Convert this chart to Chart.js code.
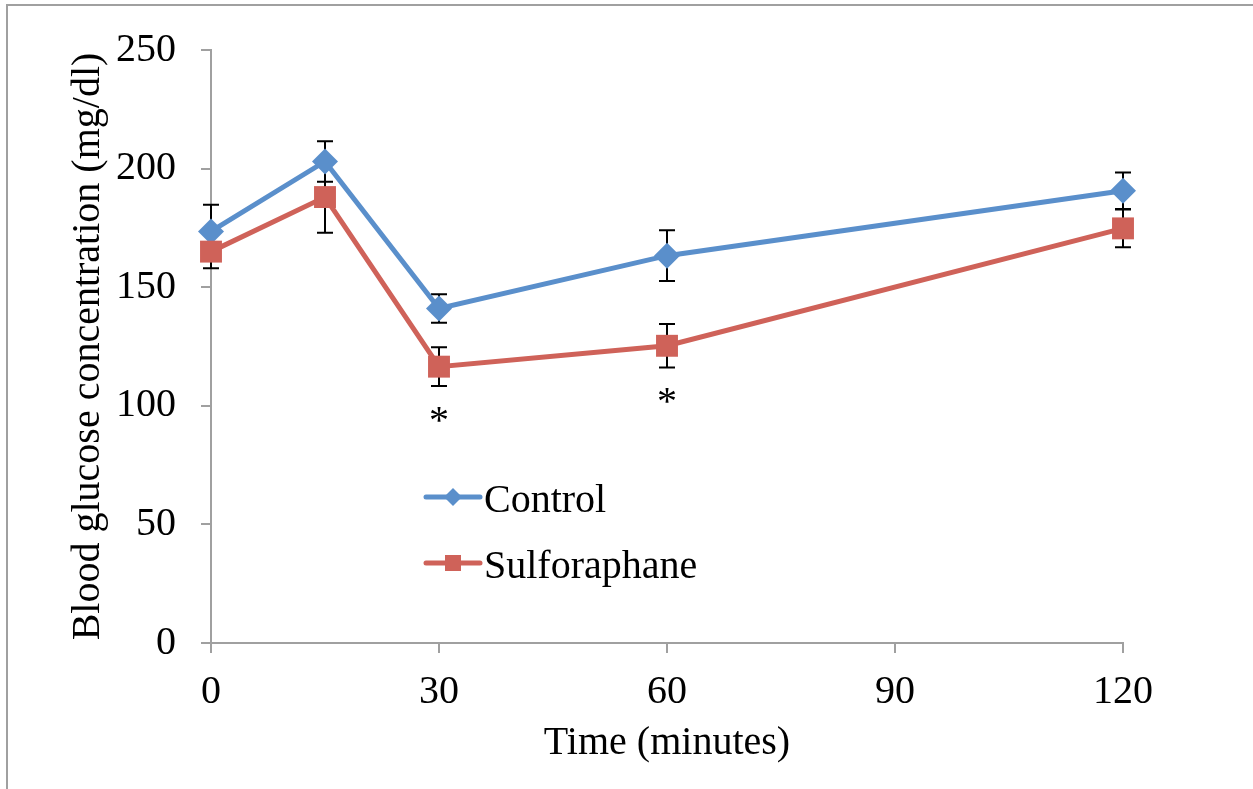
<!DOCTYPE html>
<html>
<head>
<meta charset="utf-8">
<title>Blood glucose</title>
<script src="https://cdn.jsdelivr.net/npm/chart.js@4.4.1/dist/chart.umd.min.js"></script>
<style>
    html, body { margin: 0; padding: 0; background: #fff; }
    #wrap { position: relative; width: 1253px; height: 789px; }
</style>
</head>
<body>
<div id="wrap"><canvas id="chart"></canvas></div>
<script>
// Time points (minutes)
const times = [0, 15, 30, 60, 120];

// Mean blood glucose (mg/dl)
const controlValues = [173.5, 203, 141, 163.3, 190.7];
const sulforaphaneValues = [165, 188, 116.5, 125.3, 174.8];

// Error bar half-lengths
const controlErrors = [11.3, 8.5, 6, 10.7, 7.7];
const sulforaphaneErrors = [7, 15, 8.2, 9.2, 8];

// Significance markers: [time, y value]
const starMarks = [[30, 93], [60, 101]];

const yTicks = [0, 50, 100, 150, 200, 250];
const xTicks = [0, 30, 60, 90, 120];

const FONT = "'Liberation Serif', 'Times New Roman', serif";
const FONT_SIZE = 40;
const BLUE = '#5a8fcb';
const RED = '#cf6259';
const AXIS = '#a0a0a0';

function toPoints(values) {
    return times.map((t, i) => ({ x: t, y: values[i] }));
}

// White background and the outer frame
const framePlugin = {
    id: 'frame',
    beforeDraw(chart) {
        const ctx = chart.ctx;
        ctx.save();
        ctx.fillStyle = '#fff';
        ctx.fillRect(0, 0, chart.width, chart.height);
        ctx.strokeStyle = AXIS;
        ctx.lineWidth = 2;
        ctx.beginPath();
        ctx.moveTo(7, chart.height);
        ctx.lineTo(7, 5);
        ctx.lineTo(chart.width, 5);
        ctx.stroke();
        ctx.restore();
    }
};

// Error bars, drawn under the lines and markers
const errorBarPlugin = {
    id: 'errorBars',
    beforeDatasetsDraw(chart) {
        const ctx = chart.ctx;
        const xs = chart.scales.x;
        const ys = chart.scales.y;
        const sets = [[controlValues, controlErrors], [sulforaphaneValues, sulforaphaneErrors]];
        ctx.save();
        ctx.strokeStyle = '#000';
        ctx.lineWidth = 2;
        sets.forEach(([vals, errs]) => {
            vals.forEach((v, i) => {
                const px = xs.getPixelForValue(times[i]);
                const top = ys.getPixelForValue(v + errs[i]);
                const bot = ys.getPixelForValue(v - errs[i]);
                ctx.beginPath();
                ctx.moveTo(px, top);
                ctx.lineTo(px, bot);
                ctx.moveTo(px - 8, top);
                ctx.lineTo(px + 8, top);
                ctx.moveTo(px - 8, bot);
                ctx.lineTo(px + 8, bot);
                ctx.stroke();
            });
        });
        ctx.restore();
    }
};

// Asterisks and the in-plot legend
const annotationPlugin = {
    id: 'annotations',
    afterDraw(chart) {
        const ctx = chart.ctx;
        const xs = chart.scales.x;
        const ys = chart.scales.y;
        ctx.save();
        ctx.fillStyle = '#000';
        ctx.font = FONT_SIZE + 'px ' + FONT;
        ctx.textAlign = 'center';
        ctx.textBaseline = 'middle';
        starMarks.forEach(([t, v]) => {
            ctx.fillText('*', xs.getPixelForValue(t), ys.getPixelForValue(v));
        });

        // legend
        const items = [
            { label: 'Control', color: BLUE, shape: 'diamond', y: 497 },
            { label: 'Sulforaphane', color: RED, shape: 'square', y: 563 }
        ];
        items.forEach(item => {
            ctx.strokeStyle = item.color;
            ctx.fillStyle = item.color;
            ctx.lineWidth = 5;
            ctx.lineCap = 'round';
            ctx.beginPath();
            ctx.moveTo(426, item.y);
            ctx.lineTo(480, item.y);
            ctx.stroke();
            ctx.beginPath();
            if (item.shape === 'diamond') {
                ctx.moveTo(453, item.y - 9);
                ctx.lineTo(462, item.y);
                ctx.lineTo(453, item.y + 9);
                ctx.lineTo(444, item.y);
                ctx.closePath();
            } else {
                ctx.rect(445, item.y - 8, 16, 16);
            }
            ctx.fill();
            ctx.fillStyle = '#000';
            ctx.textAlign = 'left';
            ctx.textBaseline = 'alphabetic';
            ctx.fillText(item.label, 484, item.y + 15);
        });
        ctx.restore();
    }
};

const ctx = document.getElementById('chart').getContext('2d');
new Chart(ctx, {
    type: 'line',
    data: {
        datasets: [{
            label: 'Control',
            data: toPoints(controlValues),
            borderColor: BLUE,
            backgroundColor: BLUE,
            borderWidth: 5,
            pointStyle: 'rectRot',
            pointRadius: 13,
            pointBorderWidth: 0,
            tension: 0,
            clip: false,
            order: 1
        }, {
            label: 'Sulforaphane',
            data: toPoints(sulforaphaneValues),
            borderColor: RED,
            backgroundColor: RED,
            borderWidth: 5,
            pointStyle: 'rect',
            pointRadius: 15.5,
            pointBorderWidth: 0,
            tension: 0,
            clip: false,
            order: 0
        }]
    },
    options: {
        responsive: true,
        maintainAspectRatio: false,
        animation: false,
        layout: {
            padding: { left: 64, right: 130, top: 50, bottom: 22 }
        },
        plugins: {
            legend: { display: false },
            tooltip: { enabled: false }
        },
        scales: {
            x: {
                type: 'linear',
                min: 0,
                max: 120,
                afterBuildTicks: scale => { scale.ticks = xTicks.map(v => ({ value: v })); },
                afterFit: scale => { scale.height = 124; },
                grid: { drawOnChartArea: false, color: AXIS, lineWidth: 2, tickLength: 10 },
                border: { color: AXIS, width: 2 },
                ticks: { color: '#000', font: { family: FONT, size: FONT_SIZE }, padding: 15, maxRotation: 0 },
                title: {
                    display: true,
                    text: 'Time (minutes)',
                    color: '#000',
                    font: { family: FONT, size: FONT_SIZE },
                    padding: 0
                }
            },
            y: {
                min: 0,
                max: 250,
                afterBuildTicks: scale => { scale.ticks = yTicks.map(v => ({ value: v })); },
                afterFit: scale => { scale.width = 147; },
                grid: { drawOnChartArea: false, color: AXIS, lineWidth: 2, tickLength: 10 },
                border: { color: AXIS, width: 2 },
                ticks: { color: '#000', font: { family: FONT, size: FONT_SIZE }, padding: 25 },
                title: {
                    display: true,
                    text: 'Blood glucose concentration (mg/dl)',
                    color: '#000',
                    font: { family: FONT, size: FONT_SIZE },
                    padding: 0
                }
            }
        }
    },
    plugins: [framePlugin, errorBarPlugin, annotationPlugin]
});
</script>
</body>
</html>
